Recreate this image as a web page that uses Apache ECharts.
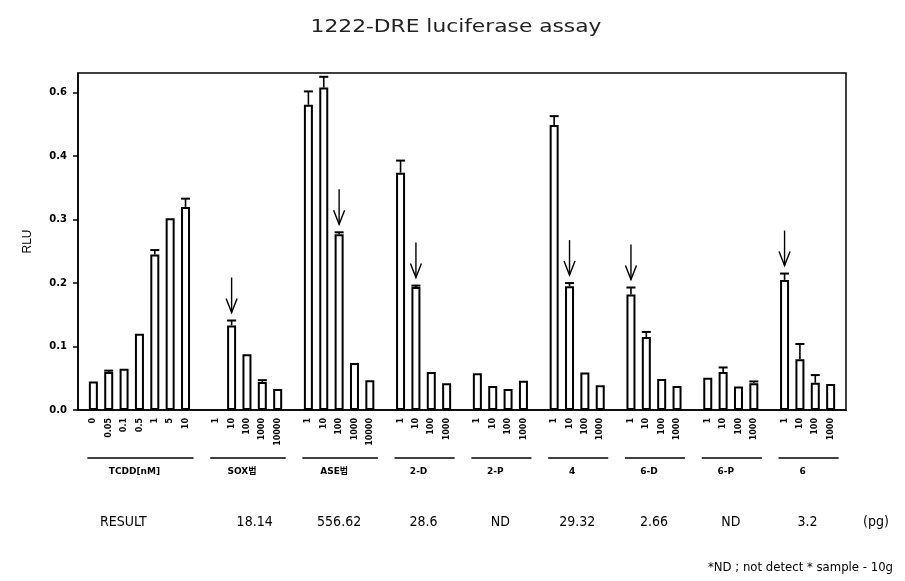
<!DOCTYPE html>
<html><head><meta charset="utf-8">
<script src="https://cdn.jsdelivr.net/npm/echarts@6/dist/echarts.min.js"></script>
<style>html,body{margin:0;padding:0;background:#fff}#c{width:905px;height:581px}</style>
</head><body><div id="c"></div>
<script>
// ---------------- data ----------------
const titleText = '1222-DRE luciferase assay';
const yAxisName = 'RLU';
// tick labels as printed on the original y axis (the last step is labelled 0.6)
const yTickLabels = ['0.0', '0.1', '0.2', '0.3', '0.4', '0.6'];

const groupNames = ['TCDD[nM]', 'SOX법', 'ASE법', '2-D', '2-P', '4', '6-D', '6-P', '6'];

const dosesTCDD = ['0', '0.05', '0.1', '0.5', '1', '5', '10'];
const dosesFive = ['1', '10', '100', '1000', '10000'];
const dosesFour = ['1', '10', '100', '1000'];

// bar heights (read on the drawn axis scale) and upper error (SD)
const valTCDD = [0.045, 0.060, 0.065, 0.120, 0.245, 0.302, 0.320];
const errTCDD = [0, 0.002, 0, 0, 0.007, 0, 0.013];
const valSOX = [null, 0.133, 0.088, 0.044, 0.033];
const errSOX = [0, 0.008, 0, 0.003, 0];
const valASE = [0.481, 0.508, 0.277, 0.074, 0.047];
const errASE = [0.021, 0.017, 0.003, 0, 0];
const val2D = [0.374, 0.194, 0.060, 0.042];
const err2D = [0.019, 0.002, 0, 0];
const val2P = [0.058, 0.038, 0.033, 0.046];
const err2P = [0, 0, 0, 0];
const val4 = [0.449, 0.195, 0.059, 0.039];
const err4 = [0.014, 0.005, 0, 0];
const val6D = [0.182, 0.115, 0.049, 0.038];
const err6D = [0.011, 0.008, 0, 0];
const val6P = [0.051, 0.060, 0.037, 0.042];
const err6P = [0, 0.007, 0, 0.003];
const val6 = [0.205, 0.080, 0.043, 0.041];
const err6 = [0.010, 0.024, 0.012, 0];

// which bar of a group carries an arrow (index within the group, -1 = none)
const arrowIndex = [-1, 1, 2, 1, -1, 1, 0, -1, 0];

const resultLabel = 'RESULT';
const resultValues = ['', '18.14', '556.62', '28.6', 'ND', '29.32', '2.66', 'ND', '3.2'];
const resultUnit = '(pg)';
const footnote = '*ND ; not detect * sample - 10g';

// ---------------- build ----------------
const groupDoses = [dosesTCDD, dosesFive, dosesFive, dosesFour, dosesFour, dosesFour, dosesFour, dosesFour, dosesFour];
const groupVals = [valTCDD, valSOX, valASE, val2D, val2P, val4, val6D, val6P, val6];
const groupErrs = [errTCDD, errSOX, errASE, err2D, err2P, err4, err6D, err6P, err6];

const catKeys = [], catLabels = [], barData = [], errData = [], arrowData = [], groupSpan = [];
function pushSpacer() {
  catKeys.push('s' + catKeys.length); catLabels.push(''); barData.push('-');
}
pushSpacer();
groupNames.forEach((g, gi) => {
  const start = catKeys.length;
  let firstDrawn = -1;
  groupDoses[gi].forEach((d, di) => {
    const idx = catKeys.length;
    catKeys.push('c' + idx);
    catLabels.push(d);
    const v = groupVals[gi][di];
    barData.push(v == null ? '-' : v);
    if (v != null && firstDrawn < 0) firstDrawn = idx;
    const e = groupErrs[gi][di];
    if (v != null && e > 0) errData.push([idx, v, e]);
    if (arrowIndex[gi] === di) arrowData.push([idx, v + (e || 0)]);
  });
  groupSpan.push({ start, end: catKeys.length - 1, firstDrawn });
  pushSpacer();
});

const chart = echarts.init(document.getElementById('c'), null, { renderer: 'canvas' });
const BODY = 'DejaVu Sans, Noto Sans CJK KR, sans-serif';

chart.setOption({
  animation: false,
  backgroundColor: '#fff',
  grid: { left: 78, right: 59, top: 73, bottom: 171, show: true, borderColor: '#000', borderWidth: 1.5, backgroundColor: 'transparent' },
  xAxis: {
    type: 'category', data: catKeys, boundaryGap: false,
    axisLine: { show: true, lineStyle: { color: '#000', width: 1.5 } },
    axisTick: { show: false },
    axisLabel: {
      interval: 0, rotate: 90, margin: 8, hideOverlap: false,
      formatter: (v, i) => catLabels[i],
      fontFamily: BODY, fontSize: 8, fontWeight: 'bold', color: '#000'
    },
    splitLine: { show: false }
  },
  yAxis: {
    type: 'value', min: 0, max: 0.531, interval: 0.1,
    name: yAxisName, nameLocation: 'middle', nameGap: 44, nameRotate: 90,
    nameTextStyle: { fontFamily: 'Liberation Sans, Arial, sans-serif', fontSize: 12, color: '#000' },
    axisLine: { show: true, lineStyle: { color: '#000', width: 1.5 } },
    axisTick: { show: true, length: 5, lineStyle: { color: '#000', width: 1.5 } },
    axisLabel: {
      margin: 11, fontFamily: BODY, fontSize: 10, fontWeight: 'bold', color: '#000',
      showMaxLabel: false,
      formatter: v => {
        const k = Math.round(v * 10);
        return Math.abs(v * 10 - k) < 1e-6 ? (yTickLabels[k] || '') : '';
      }
    },
    splitLine: { show: false }
  },
  series: [
    {
      type: 'bar', data: barData, barWidth: 9,
      itemStyle: { color: '#fdfdfd', borderColor: '#000', borderWidth: 2 }
    },
    {
      type: 'custom', data: errData, z: 3,
      renderItem: (params, api) => {
        const x = api.value(0), v = api.value(1), e = api.value(2);
        const p0 = api.coord([x, v]);
        const p1 = api.coord([x, v + e]);
        const st = { stroke: '#000', lineWidth: 1.6 };
        return { type: 'group', children: [
          { type: 'line', shape: { x1: p0[0], y1: p0[1], x2: p1[0], y2: p1[1] }, style: st },
          { type: 'line', shape: { x1: p1[0] - 4.5, y1: p1[1], x2: p1[0] + 4.5, y2: p1[1] }, style: { stroke: '#000', lineWidth: 2 } }
        ] };
      }
    },
    {
      type: 'custom', data: arrowData, z: 3,
      renderItem: (params, api) => {
        const p = api.coord([api.value(0), api.value(1)]);
        const tip = p[1] - 8, tail = tip - 35;
        const st = { stroke: '#000', lineWidth: 1.4, fill: null };
        return { type: 'group', children: [
          { type: 'line', shape: { x1: p[0], y1: tail, x2: p[0], y2: tip }, style: st },
          { type: 'polyline', shape: { points: [[p[0] - 5.5, tip - 14], [p[0], tip], [p[0] + 5.5, tip - 14]] }, style: st }
        ] };
      }
    }
  ]
});

// ---------------- annotations (positions from the axis scale) ----------------
const px = i => chart.convertToPixel({ xAxisIndex: 0 }, i);
const gfx = [];
const NARROW = 'Liberation Sans Narrow, DejaVu Sans Condensed, Arial Narrow, sans-serif';
// title, drawn a little wider like the widely spaced original lettering
gfx.push({ type: 'text', x: 456, y: 28, scaleX: 1.28, scaleY: 1,
  style: { text: titleText, font: '17px DejaVu Sans, sans-serif', fill: '#222', align: 'center', verticalAlign: 'middle' } });
groupSpan.forEach((s, gi) => {
  const x0 = px(s.start), x1 = px(s.end);
  gfx.push({ type: 'line', shape: { x1: x0 - 6, y1: 458, x2: x1 + 8, y2: 458 }, style: { stroke: '#000', lineWidth: 1.5 } });
  gfx.push({ type: 'text', x: (x0 + x1) / 2 - 5, y: 472,
    style: { text: groupNames[gi], font: 'bold 9px ' + BODY, fill: '#000', align: 'center', verticalAlign: 'middle' } });
  if (resultValues[gi]) {
    const xa = px(s.firstDrawn);
    gfx.push({ type: 'text', x: (xa + x1) / 2, y: 522,
      style: { text: resultValues[gi], font: '14px ' + NARROW, fill: '#000', align: 'center', verticalAlign: 'middle' } });
  }
});
gfx.push({ type: 'text', x: 100, y: 522, style: { text: resultLabel, font: '14px ' + NARROW, fill: '#000', align: 'left', verticalAlign: 'middle' } });
gfx.push({ type: 'text', x: 876, y: 522, style: { text: resultUnit, font: '14px ' + NARROW, fill: '#000', align: 'center', verticalAlign: 'middle' } });
gfx.push({ type: 'text', x: 893, y: 568, style: { text: footnote, font: '13px ' + NARROW, fill: '#000', align: 'right', verticalAlign: 'middle' } });
chart.setOption({ graphic: gfx });
</script>
</body></html>
